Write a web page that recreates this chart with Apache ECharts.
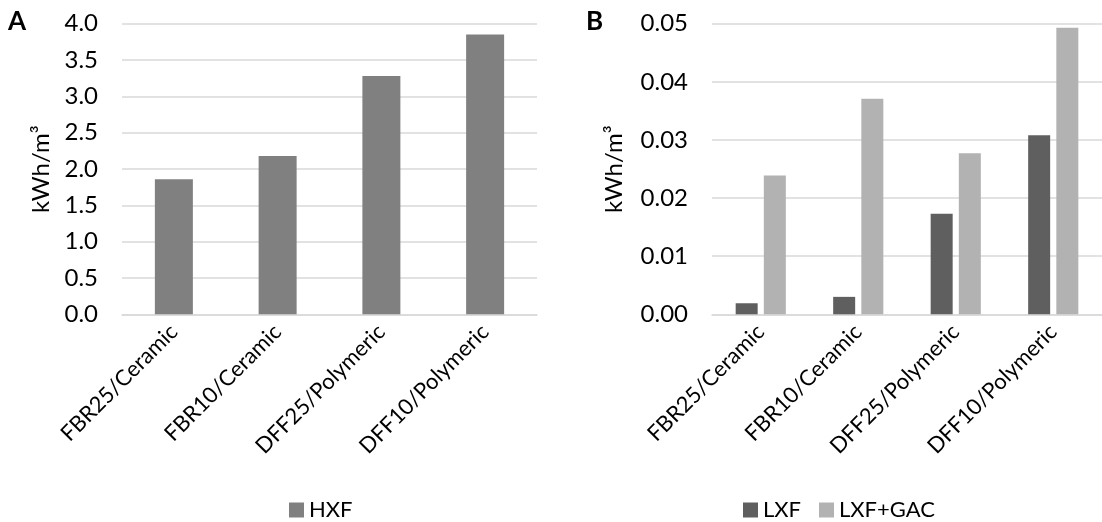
<!DOCTYPE html>
<html>
<head>
<meta charset="utf-8">
<script src="https://cdn.jsdelivr.net/npm/echarts@6/dist/echarts.min.js"></script>
<style>
html,body{margin:0;padding:0;background:#fff;}
#c{width:1102px;height:522px;}
</style>
</head>
<body>
<div id="c"></div>
<script>
const categories = ['FBR25/Ceramic', 'FBR10/Ceramic', 'DFF25/Polymeric', 'DFF10/Polymeric'];
const hxf = [1.86, 2.18, 3.28, 3.85];
const lxf = [0.0019, 0.0030, 0.0173, 0.0308];
const lxfGac = [0.0239, 0.0371, 0.0277, 0.0493];
const yTicksA = { min: 0, max: 4, interval: 0.5 };
const yTicksB = { min: 0, max: 0.05, interval: 0.01 };
const yName = 'kWh/m³';

const FONT = 'Lato, "Open Sans", sans-serif';
const TXT = '#000';
const GRID = '#d9d9d9';

const chart = echarts.init(document.getElementById('c'), null, { renderer: 'canvas' });

function xAxis(gi) {
  return {
    type: 'category', gridIndex: gi, data: categories,
    axisLine: { show: true, lineStyle: { color: GRID, width: 1.5 } },
    axisTick: { show: false },
    axisLabel: { rotate: 45, fontFamily: FONT, fontSize: 22, color: TXT, margin: 14, interval: 0 }
  };
}
function yAxis(gi, t, digits, gap) {
  return {
    type: 'value', gridIndex: gi, min: t.min, max: t.max, interval: t.interval,
    name: yName, nameLocation: 'middle', nameRotate: 90, nameGap: gap,
    nameTextStyle: { fontFamily: FONT, fontSize: 24, color: TXT },
    axisLine: { show: false }, axisTick: { show: false },
    axisLabel: { fontFamily: FONT, fontSize: 24, color: TXT, margin: 24,
      formatter: v => v.toFixed(digits) },
    splitLine: { lineStyle: { color: GRID, width: 1.5 } }
  };
}

chart.setOption({
  animation: false,
  backgroundColor: '#fff',
  grid: [
    { left: 122, width: 415, top: 23.7, bottom: 207.7 },
    { left: 712, width: 400, top: 23.7, bottom: 207.7 }
  ],
  xAxis: [xAxis(0), xAxis(1)],
  yAxis: [yAxis(0, yTicksA, 1, 69), yAxis(1, yTicksB, 2, 86)],
  legend: [
    { data: ['HXF'], left: 284, bottom: -4, itemWidth: 15, itemHeight: 15, icon: 'rect',
      textStyle: { fontFamily: FONT, fontSize: 22, color: TXT }, itemGap: 20 },
    { data: ['LXF', 'LXF+GAC'], left: 738, bottom: -4, itemWidth: 15, itemHeight: 15, icon: 'rect',
      textStyle: { fontFamily: FONT, fontSize: 22, color: TXT }, itemGap: 18 }
  ],
  graphic: [
    { type: 'text', left: 8, top: 9, style: { text: 'A', font: 'bold 26px ' + FONT, fill: '#000' } },
    { type: 'text', left: 586, top: 9, style: { text: 'B', font: 'bold 26px ' + FONT, fill: '#000' } }
  ],
  series: [
    { name: 'HXF', type: 'bar', xAxisIndex: 0, yAxisIndex: 0, data: hxf, barWidth: 38,
      itemStyle: { color: '#808080' } },
    { name: 'LXF', type: 'bar', xAxisIndex: 1, yAxisIndex: 1, data: lxf, barWidth: 22, barGap: '28%',
      itemStyle: { color: '#5f5f5f' } },
    { name: 'LXF+GAC', type: 'bar', xAxisIndex: 1, yAxisIndex: 1, data: lxfGac, barWidth: 22, barGap: '28%',
      itemStyle: { color: '#b2b2b2' } }
  ]
});
</script>
</body>
</html>
